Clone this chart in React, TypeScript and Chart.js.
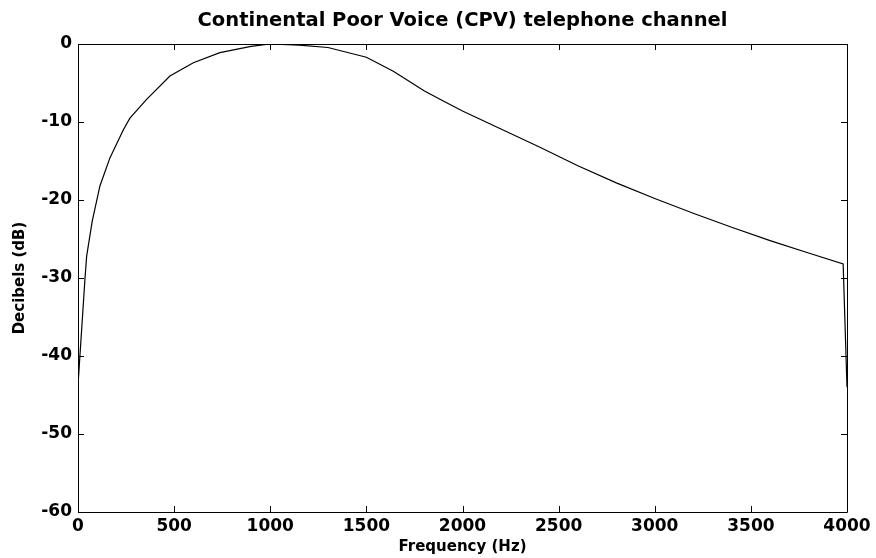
import { useEffect, useRef } from "react";
import { Chart, registerables } from "chart.js";

Chart.register(...registerables);

const chartTitle = "Continental Poor Voice (CPV) telephone channel";
const xAxisLabel = "Frequency (Hz)";
const yAxisLabel = "Decibels (dB)";

const xMin = 0;
const xMax = 4000;
const xStep = 500;
const yMin = -60;
const yMax = 0;
const yStep = 10;

const freqHz = [
  0, 2, 36, 45, 74, 114, 166, 236, 270, 357, 478, 600, 738, 900, 1000, 1150,
  1300, 1500, 1640, 1800, 1900, 2000, 2200, 2400, 2600, 2800, 3000, 3200,
  3400, 3600, 3800, 3980, 4000,
];
const gainDb = [
  -48, -43, -30.2, -27.2, -22.7, -18.2, -14.6, -11.0, -9.5, -7.1, -4.1, -2.4,
  -1.1, -0.3, 0, -0.15, -0.45, -1.7, -3.5, -6.0, -7.3, -8.6, -10.9, -13.2,
  -15.6, -17.8, -19.8, -21.7, -23.5, -25.2, -26.8, -28.2, -44,
];

const FONT = "'DejaVu Sans', sans-serif";

const framePlugin = {
  id: "matlabFrame",
  afterDatasetsDraw(chart: any) {
    const { ctx, chartArea, scales } = chart;
    const { left, right, top, bottom } = chartArea;
    const xs = scales.x;
    const ys = scales.y;
    const tl = 6;
    ctx.save();
    ctx.strokeStyle = "#000";
    ctx.lineWidth = 1;
    ctx.beginPath();
    ctx.rect(Math.round(left) + 0.5, Math.round(top) + 0.5, Math.round(right - left), Math.round(bottom - top));
    ctx.stroke();
    ctx.beginPath();
    xs.ticks.forEach((t: any) => {
      const px = Math.round(xs.getPixelForValue(t.value)) + 0.5;
      ctx.moveTo(px, bottom);
      ctx.lineTo(px, bottom - tl);
      ctx.moveTo(px, top);
      ctx.lineTo(px, top + tl);
    });
    ys.ticks.forEach((t: any) => {
      const py = Math.round(ys.getPixelForValue(t.value)) + 0.5;
      ctx.moveTo(left, py);
      ctx.lineTo(left + tl, py);
      ctx.moveTo(right, py);
      ctx.lineTo(right - tl, py);
    });
    ctx.stroke();
    ctx.restore();
  },
};

export default function App() {
  const canvasRef = useRef<HTMLCanvasElement | null>(null);

  useEffect(() => {
    document.body.style.margin = "0";
    const canvas = canvasRef.current;
    if (!canvas) return;
    const points = freqHz.map((f, i) => ({ x: f, y: gainDb[i] }));
    const chart = new Chart(canvas, {
      type: "line",
      data: {
        datasets: [
          {
            data: points,
            borderColor: "#000",
            borderWidth: 1.2,
            pointRadius: 0,
            tension: 0,
            fill: false,
          },
        ],
      },
      options: {
        animation: false,
        responsive: false,
        devicePixelRatio: 1,
        layout: { padding: { top: 0, right: 29, bottom: 0, left: 0 } },
        plugins: {
          legend: { display: false },
          tooltip: { enabled: false },
          title: {
            display: true,
            text: chartTitle,
            color: "#000",
            fullSize: false,
            font: { family: FONT, size: 19.5, weight: "bold" },
            padding: { top: 9, bottom: 11.6 },
          },
        },
        scales: {
          x: {
            type: "linear",
            min: xMin,
            max: xMax,
            grid: { display: false, drawTicks: false },
            border: { display: false },
            ticks: {
              stepSize: xStep,
              color: "#000",
              padding: 4,
              maxRotation: 0,
              font: { family: FONT, size: 17, weight: "bold" },
              callback: (v: any) => String(v),
            },
            title: {
              display: true,
              text: xAxisLabel,
              color: "#000",
              font: { family: FONT, size: 15, weight: "bold" },
              padding: { top: 0, bottom: 2 },
            },
            afterFit: (s: any) => {
              s.height = 46;
            },
          },
          y: {
            type: "linear",
            min: yMin,
            max: yMax,
            grid: { display: false, drawTicks: false },
            border: { display: false },
            ticks: {
              stepSize: yStep,
              color: "#000",
              padding: 6,
              font: { family: FONT, size: 17, weight: "bold" },
              callback: (v: any) => String(v),
            },
            title: {
              display: true,
              text: yAxisLabel,
              color: "#000",
              font: { family: FONT, size: 15, weight: "bold" },
              padding: { top: 11, bottom: 0 },
            },
            afterFit: (s: any) => {
              s.width = 78;
            },
          },
        },
      },
      plugins: [framePlugin],
    });
    return () => chart.destroy();
  }, []);

  return (
    <div style={{ width: 876, height: 558, background: "#fff" }}>
      <canvas ref={canvasRef} width={876} height={558} />
    </div>
  );
}
